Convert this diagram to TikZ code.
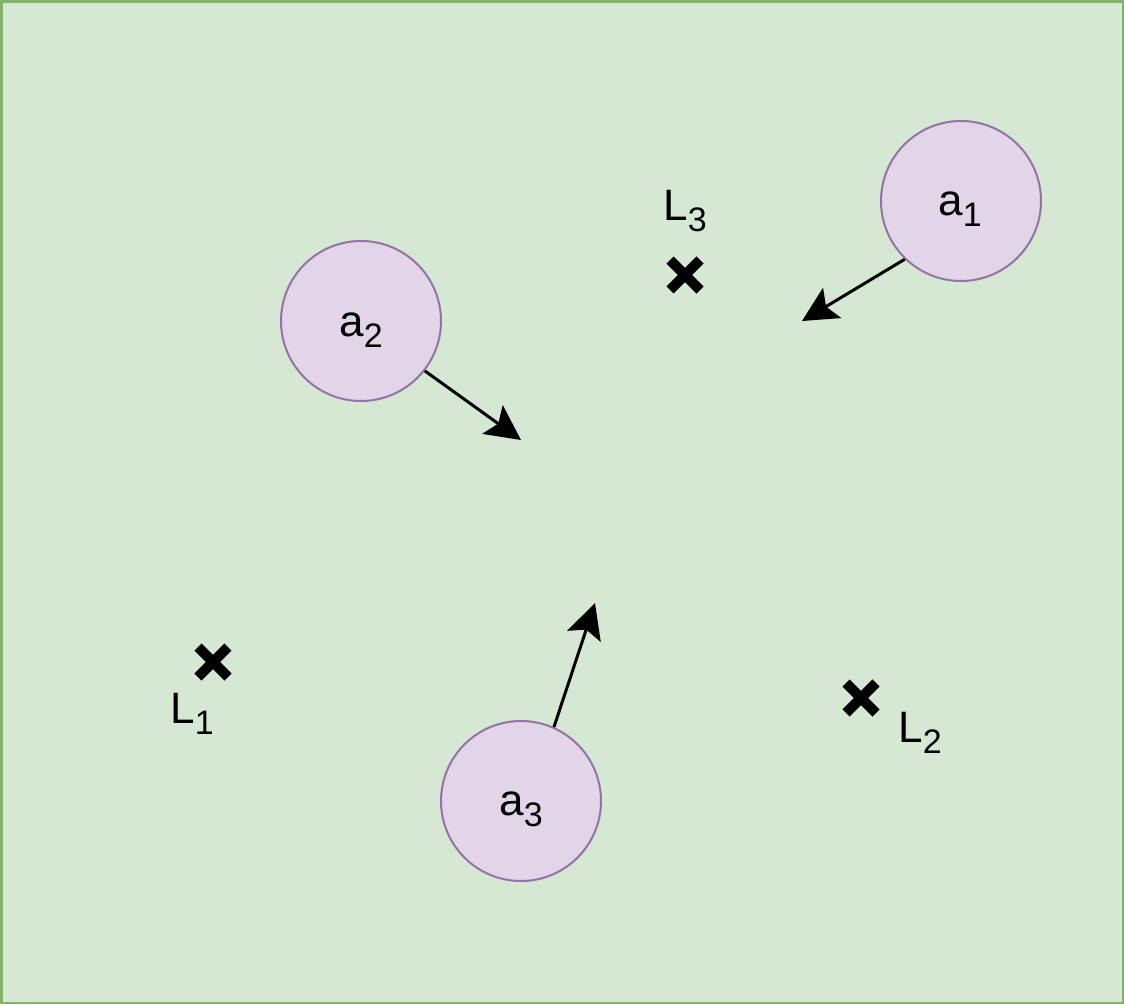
\documentclass[tikz,border=0pt]{standalone}
\usepackage{fontspec}
\setmainfont{Liberation Sans}
\usetikzlibrary{arrows.meta}
\definecolor{bgfill}{HTML}{D5E8D4}
\definecolor{bgline}{HTML}{82B366}
\definecolor{agfill}{HTML}{E1D5E7}
\definecolor{agline}{HTML}{9673A6}
\newcommand{\sublbl}[2]{#1\raisebox{-11pt}{\fontsize{34}{34}\selectfont #2}}
\tikzset{
  agent/.style={circle, draw=agline, fill=agfill, line width=2pt, minimum size=160pt, inner sep=0pt},
  lbl/.style={anchor=base, inner sep=0pt, font=\fontsize{44}{44}\selectfont},
  mv/.style={line width=3pt, -{Stealth[length=35pt, width=35pt, inset=7pt]}},
  xmark/.style={line width=10pt},
}
\begin{document}
\begin{tikzpicture}[x=1pt, y=-1pt]
\useasboundingbox (0,0) rectangle (1124,1004);
\draw[fill=bgfill, draw=bgline, line width=2.5pt] (1.25,1.25) rectangle (1122.75,1002.75);
% agents
\node[agent] (a1) at (961,201) {};
\node[agent] (a2) at (361,321) {};
\node[agent] (a3) at (521,801) {};
\node[lbl] (ta1) at (960,215) {\sublbl{a}{1}};
\node[lbl] (ta2) at (361,336) {\sublbl{a}{2}};
\node[lbl] (ta3) at (521,815) {\sublbl{a}{3}};
% motion arrows
\coordinate (t1) at (802,321);
\coordinate (t2) at (521,440);
\coordinate (t3) at (595,603);
\draw[mv] (a1.226.5) -- (t1);
\draw[mv] (a2.322.3) -- (t2);
\draw[mv] (a3.66.8) -- (t3);
% landmarks
\coordinate (L1) at (213,662);
\coordinate (L2) at (861,698);
\coordinate (L3) at (685,275);
\foreach \p in {L1,L2,L3}{
  \draw[xmark] ([shift={(-15,-15)}]\p) -- ([shift={(15,15)}]\p);
  \draw[xmark] ([shift={(-15,15)}]\p) -- ([shift={(15,-15)}]\p);
}
\node[lbl] (tL1) at (192,723) {\sublbl{L}{1}};
\node[lbl] (tL2) at (920,742) {\sublbl{L}{2}};
\node[lbl] (tL3) at (685,220) {\sublbl{L}{3}};
\end{tikzpicture}
\end{document}
